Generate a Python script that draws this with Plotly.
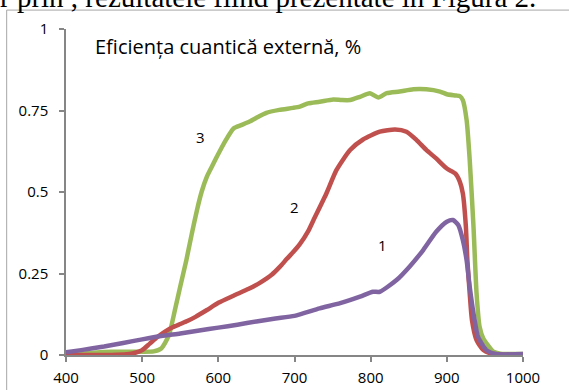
import plotly.graph_objects as go

# Wavelength grids (nm) and external quantum efficiency for the three samples
wl_3 = [400, 420, 440, 460, 480, 500, 515, 525, 535, 543, 550, 558, 565, 572, 578,
        585, 592, 598, 610, 620, 630, 641, 652, 663, 680, 698, 707, 718, 733, 751,
        762, 773, 786, 799, 810, 821, 838, 856, 873, 891, 900, 912, 917, 921, 926,
        930, 935, 939, 943, 948, 952, 961, 970, 978, 1000]
eqe_3 = [0.003, 0.004, 0.008, 0.010, 0.010, 0.010, 0.011, 0.020, 0.060, 0.138,
         0.210, 0.291, 0.370, 0.445, 0.500, 0.547, 0.580, 0.608, 0.660, 0.695,
         0.705, 0.716, 0.730, 0.743, 0.752, 0.758, 0.762, 0.772, 0.777, 0.784,
         0.782, 0.782, 0.792, 0.803, 0.790, 0.803, 0.808, 0.815, 0.815, 0.808,
         0.800, 0.796, 0.794, 0.782, 0.720, 0.600, 0.394, 0.190, 0.087, 0.050,
         0.036, 0.010, 0.004, 0.003, 0.003]

wl_2 = [400, 420, 440, 460, 480, 490, 500, 510, 520, 530, 540, 550, 560, 570, 585,
        600, 620, 640, 655, 670, 681, 690, 698, 707, 718, 725, 742, 755, 773, 790,
        812, 832, 847, 860, 873, 886, 900, 911, 917, 921, 925, 927, 930, 933, 939,
        948, 961, 1000]
eqe_2 = [0.000, 0.000, 0.000, 0.000, 0.002, 0.006, 0.015, 0.035, 0.055, 0.072,
         0.085, 0.095, 0.105, 0.117, 0.138, 0.160, 0.182, 0.203, 0.222, 0.246,
         0.271, 0.295, 0.315, 0.340, 0.380, 0.414, 0.496, 0.567, 0.629, 0.661,
         0.685, 0.692, 0.685, 0.660, 0.629, 0.603, 0.572, 0.557, 0.532, 0.496,
         0.394, 0.290, 0.190, 0.107, 0.046, 0.015, 0.003, 0.000]

wl_1 = [400, 420, 450, 475, 500, 525, 550, 575, 600, 625, 650, 675, 700, 733, 760,
        786, 803, 812, 834, 851, 869, 886, 900, 908, 915, 921, 926, 930, 935, 941,
        952, 965, 1000]
eqe_1 = [0.008, 0.015, 0.026, 0.037, 0.048, 0.058, 0.066, 0.075, 0.084, 0.093,
         0.103, 0.112, 0.120, 0.143, 0.159, 0.179, 0.194, 0.194, 0.230, 0.271,
         0.322, 0.378, 0.409, 0.414, 0.399, 0.353, 0.290, 0.210, 0.128, 0.056,
         0.015, 0.003, 0.003]

x_ticks = [400, 500, 600, 700, 800, 900, 1000]
y_ticks = [0, 0.25, 0.5, 0.75, 1]
y_tick_text = ["0", "0.25", "0.5", "0.75", "1"]

# Curve labels: (text, wavelength, value)
curve_labels = [("3", 576, 0.669), ("2", 700, 0.454), ("1", 816, 0.337)]

FONT = "Open Sans"
AXIS_GREY = "#868686"

fig = go.Figure()
series = [
    (wl_3, eqe_3, "#9BBB59"),
    (wl_2, eqe_2, "#C0504D"),
    (wl_1, eqe_1, "#8064A2"),
]
for wl, eqe, colour in series:
    fig.add_trace(go.Scatter(
        x=wl, y=eqe, mode="lines",
        line=dict(color=colour, width=4.5, shape="spline", smoothing=0.6),
        showlegend=False, hoverinfo="skip", cliponaxis=False,
    ))

for text, xv, yv in curve_labels:
    fig.add_annotation(x=xv, y=yv, text=text, showarrow=False,
                       font=dict(family=FONT, size=15, color="black"))

fig.add_annotation(x=1011, y=0.147, text="λ, nm", showarrow=False,
                   font=dict(family=FONT, size=16, color="black"))

fig.add_annotation(x=436, y=0.945, xanchor="left", text="Eficiența cuantică externă, %",
                   showarrow=False, font=dict(family=FONT, size=20, color="black"))

# Surrounding text line and frame of the figure box
fig.add_annotation(xref="paper", yref="paper", x=-0.149, y=1.099,
                   xanchor="left", yanchor="middle",
                   text="r prin , rezultatele fiind prezentate în Figura 2.",
                   showarrow=False,
                   font=dict(family="Liberation Serif", size=29, color="black"))
fig.add_shape(type="rect", xref="paper", yref="paper",
              x0=-0.1298, y0=-0.3, x1=1.3, y1=1.058,
              line=dict(color="#a6a6a6", width=1), fillcolor="rgba(0,0,0,0)")

fig.update_xaxes(range=[400, 1000], tickvals=x_ticks, showgrid=False, zeroline=False,
                 showline=True, linecolor=AXIS_GREY, linewidth=1.5, automargin=False,
                 ticks="outside", ticklen=5, tickcolor=AXIS_GREY, tickwidth=1.5,
                 ticklabelstandoff=3,
                 tickfont=dict(family=FONT, size=15, color="black"))
fig.update_yaxes(range=[0, 1], tickvals=y_ticks, ticktext=y_tick_text,
                 showgrid=False, zeroline=False, automargin=False,
                 showline=True, linecolor=AXIS_GREY, linewidth=1.5,
                 ticks="outside", ticklen=5, tickcolor=AXIS_GREY, tickwidth=1.5,
                 ticklabelstandoff=8,
                 tickfont=dict(family=FONT, size=15, color="black"))

fig.update_layout(width=569, height=390, margin=dict(l=66, r=46, t=29, b=35),
                  plot_bgcolor="white", paper_bgcolor="white")

fig.write_html("out.html")
